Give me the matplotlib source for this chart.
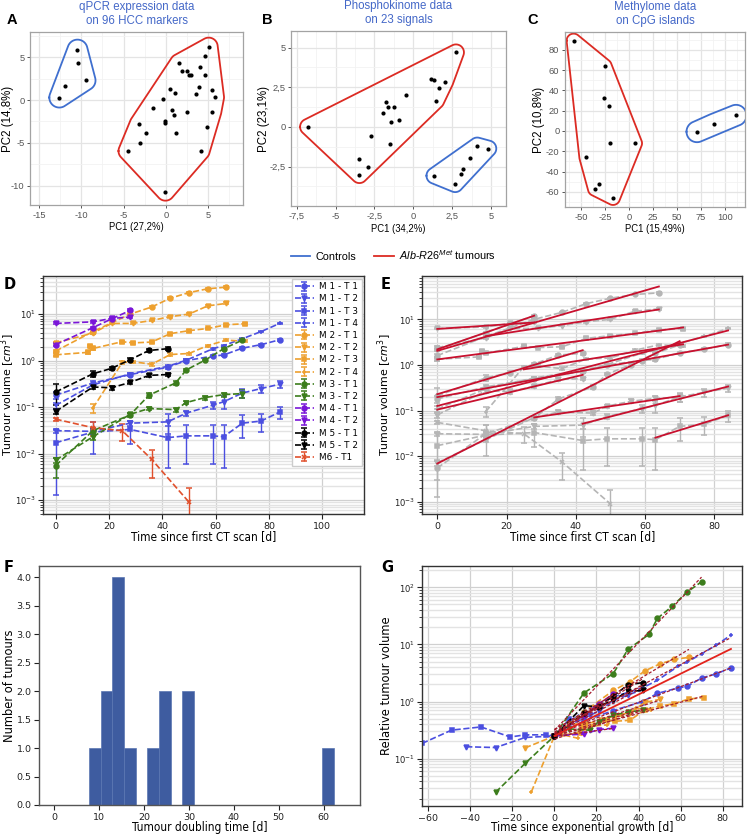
import os
import numpy as np
import matplotlib
matplotlib.use('Agg')
import matplotlib.pyplot as plt
from matplotlib import font_manager as fm
from matplotlib.font_manager import FontProperties
from matplotlib.ticker import FixedLocator, LogLocator, NullFormatter
from matplotlib.lines import Line2D

W, H = 747, 836

# ---------------- data: PCA panels ----------------
a_ctrl_x = [-12.6, -11.9, -10.45, -10.35, -9.5]
a_ctrl_y = [0.3, 1.6, 5.9, 4.3, 2.3]
a_tum_x = [5.08, 4.69, 1.57, 1.97, 2.56, 4.02, 2.76, 3.0, 4.69, 0.55, 1.1, 3.9, 5.43, 3.58, 5.83,
           -0.31, -1.5, 0.79, 1.02, 2.56, 5.51, -0.08, -0.04, -3.19, -2.32, 1.26, 4.84, -3.07,
           -4.53, 4.13, -0.04]
a_tum_y = [6.25, 5.19, 4.34, 3.44, 3.44, 3.83, 2.9, 2.9, 2.94, 1.34, 0.83, 1.57, 1.22, 0.71, 0.33,
           0.17, -0.92, -1.19, -1.74, -1.39, -1.35, -2.48, -2.67, -2.75, -3.88, -3.8, -3.1, -4.97,
           -5.95, -5.95, -10.7]

b_ctrl_x = [1.36, 2.69, 3.08, 3.19, 3.66, 4.11, 4.82]
b_ctrl_y = [-3.07, -3.6, -2.94, -2.65, -1.97, -1.17, -1.36]
b_tum_x = [-6.77, -3.47, -3.47, -2.93, -2.71, -1.96, -1.75, -1.64, -1.26, -1.41, -1.53, -0.93,
           -0.48, 1.15, 1.34, 2.05, 1.62, 1.47, 2.74]
b_tum_y = [0.01, -1.99, -3.03, -2.52, -0.54, 0.86, 1.6, 1.24, 1.24, 0.33, -1.08, 0.46, 2.0, 3.01,
           2.97, 2.85, 2.44, 1.66, 4.7]

c_ctrl_x = [71.1, 89.2, 111.8]
c_ctrl_y = [-0.7, 6.9, 15.4]
c_tum_x = [-57.7, -25.3, -26.0, -21.1, -20.1, 6.4, -44.4, -31.6, -35.4, -16.6]
c_tum_y = [88.9, 63.9, 32.1, 24.9, -12.1, -12.1, -25.9, -52.1, -57.0, -65.9]

# ---------------- data: tumour volumes (cm^3) ----------------
m1_t = [0, 14, 28, 42, 49, 59, 63, 70, 77, 84]
m1t1_v = [0.18, 0.33, 0.50, 0.72, 1.0, 1.25, 1.32, 1.85, 2.2, 2.8]
m1t1_e = [0.03, 0.03, 0.04, 0.05, 0.06, 0.08, 0.08, 0.1, 0.12, 0.15]
m1t2_v = [0.031, 0.030, 0.045, 0.048, 0.074, 0.11, 0.13, 0.20, 0.25, 0.31]
m1t2_e = [0.003, 0.004, 0.006, 0.022, 0.01, 0.02, 0.04, 0.045, 0.05, 0.05]
m1t3_v = [0.017, 0.029, 0.033, 0.022, 0.024, 0.024, 0.023, 0.045, 0.050, 0.078]
m1t3_e = [0.0157, 0.019, 0.017, 0.017, 0.018, 0.018, 0.018, 0.023, 0.021, 0.022]
m1t4_v = [0.108, 0.30, 0.52, 0.75, 1.02, 1.8, 2.1, 2.95, 4.2, 6.3]
m1t4_e = [0.015, 0.02, 0.03, 0.04, 0.05, 0.08, 0.1, 0.12, 0.15, 0.2]

m2t1_t = [0, 14, 28, 36, 43, 50, 57, 64]
m2t1_v = [1.6, 4.2, 10.0, 14.2, 22.0, 29.0, 35.0, 38.0]
m2t1_e = [0.1, 0.2, 0.4, 0.5, 0.8, 1.0, 1.2, 1.3]
m2t2_t = [0, 14, 21, 29, 36, 43, 50, 57, 64]
m2t2_v = [2.4, 3.9, 6.3, 6.3, 7.3, 8.8, 10.0, 15.0, 17.0]
m2t2_e = [0.15, 0.2, 0.3, 0.3, 0.3, 0.4, 0.5, 0.7, 0.8]
m2t3_t = [0, 12, 13, 14, 25, 29, 36, 43, 50, 57, 64, 71]
m2t3_v = [1.33, 1.5, 2.05, 1.82, 2.55, 2.4, 2.5, 3.8, 4.4, 4.9, 5.9, 6.2]
m2t3_e = [0.1, 0.1, 0.12, 0.1, 0.12, 0.1, 0.12, 0.2, 0.2, 0.2, 0.3, 0.3]
m2t4_t = [14, 25, 29, 36, 43, 50, 57, 64, 71]
m2t4_v = [0.095, 0.91, 0.95, 0.83, 1.35, 1.42, 2.1, 2.75, 2.6]
m2t4_e = [0.022, 0.05, 0.05, 0.05, 0.07, 0.07, 0.1, 0.15, 0.15]

m3_t = [0, 14, 28, 35, 45, 49, 56, 63, 70]
m3t1_v = [0.0055, 0.031, 0.068, 0.18, 0.33, 0.63, 1.02, 1.8, 2.75]
m3t1_e = [0.0025, 0.004, 0.006, 0.02, 0.03, 0.04, 0.06, 0.1, 0.15]
m3t2_v = [0.0072, 0.023, 0.07, 0.093, 0.088, 0.125, 0.16, 0.185, 0.195]
m3t2_e = [0.001, 0.003, 0.006, 0.008, 0.008, 0.01, 0.015, 0.02, 0.04]

m4_t = [0, 14, 21, 28]
m4t1_v = [2.2, 5.1, 7.9, 12.0]
m4t1_e = [0.15, 0.3, 0.4, 0.6]
m4t2_v = [6.3, 6.8, 8.1, 8.6]
m4t2_e = [0.3, 0.3, 0.4, 0.4]

m5_t = [0, 14, 21, 28, 35, 42]
m5t1_v = [0.21, 0.52, 0.68, 1.05, 1.65, 1.8]
m5t1_e = [0.1, 0.07, 0.06, 0.07, 0.12, 0.12]
m5t2_v = [0.08, 0.27, 0.26, 0.34, 0.48, 0.50]
m5t2_e = [0.01, 0.03, 0.03, 0.03, 0.04, 0.04]

m6_t = [0, 14, 25, 36, 50]
m6t1_v = [0.055, 0.036, 0.031, 0.0075, 0.0009]
m6t1_e = [0.004, 0.012, 0.012, 0.0045, 0.00088]

series_labels = ['M 1 - T 1', 'M 1 - T 2', 'M 1 - T 3', 'M 1 - T 4',
                 'M 2 - T 1', 'M 2 - T 2', 'M 2 - T 3', 'M 2 - T 4',
                 'M 3 - T 1', 'M 3 - T 2', 'M 4 - T 1', 'M 4 - T 2',
                 'M 5 - T 1', 'M 5 - T 2', 'M6 - T1']
# index of first point of the exponential growth phase (None = not fitted)
fit_start = [0, 3, 6, 0, 0, 1, 0, 1, 0, 2, 0, 0, 0, 0, None]

# tumour doubling times (days) for histogram
doubling_times = [7.8, 11.2, 12.3, 13.5, 14.0, 14.6, 15.2, 16.4, 22.0, 24.1, 25.0, 29.3, 30.2, 62.3]
n_bins = 21

# ---------------- styling ----------------
C_M1, C_M2, C_M3, C_M4, C_M5, C_M6 = '#4b4fe0', '#eda02f', '#3c7d1c', '#7a16d8', '#000000', '#e0502c'
BLUE_H, RED_H = '#3f6fcf', '#dc2b23'
TITLE_C = '#4468c8'

series = [
    (m1_t, m1t1_v, m1t1_e, C_M1, 'o'), (m1_t, m1t2_v, m1t2_e, C_M1, 'v'),
    (m1_t, m1t3_v, m1t3_e, C_M1, 's'), (m1_t, m1t4_v, m1t4_e, C_M1, '+'),
    (m2t1_t, m2t1_v, m2t1_e, C_M2, 'o'), (m2t2_t, m2t2_v, m2t2_e, C_M2, 'v'),
    (m2t3_t, m2t3_v, m2t3_e, C_M2, 's'), (m2t4_t, m2t4_v, m2t4_e, C_M2, '+'),
    (m3_t, m3t1_v, m3t1_e, C_M3, 'o'), (m3_t, m3t2_v, m3t2_e, C_M3, 'v'),
    (m4_t, m4t1_v, m4t1_e, C_M4, 'o'), (m4_t, m4t2_v, m4t2_e, C_M4, 'v'),
    (m5_t, m5t1_v, m5t1_e, C_M5, 'o'), (m5_t, m5t2_v, m5t2_e, C_M5, 'v'),
    (m6_t, m6t1_v, m6t1_e, C_M6, 'x'),
]


def _font(basename):
    for f in fm.fontManager.ttflist:
        if os.path.basename(f.fname).lower() == basename:
            return f.fname
    return None


DVC = _font('dejavusanscondensed.ttf')
LSN = _font('liberationsansnarrow-regular.ttf')


def fp_dv_x(size):
    if DVC:
        return FontProperties(fname=DVC, size=size)
    return FontProperties(family='DejaVu Sans', size=size * 0.87)


def fp_lib_x(size):
    if LSN:
        return FontProperties(fname=LSN, size=size)
    return FontProperties(family='Liberation Sans', size=size * 0.84)


plt.rcParams['mathtext.it'] = 'Liberation Sans:italic'
plt.rcParams['mathtext.rm'] = 'Liberation Sans'

fig = plt.figure(figsize=(W / 100, H / 100), dpi=100)


def add_ax(l, t, r, b):
    return fig.add_axes([l / W, 1 - b / H, (r - l) / W, (b - t) / H])


def place_labels(ax, xl_top_px, yl_right_px):
    """Place axis labels at pixel positions (x label top, y label right edge)."""
    bb = ax.get_position()
    l, b = bb.x0 * W, (1 - bb.y0) * H
    ax.xaxis.set_label_coords(0.5, (b - xl_top_px) / (bb.height * H))
    ax.yaxis.set_label_coords((yl_right_px - l) / (bb.width * W), 0.5)
    ax.xaxis.label.set_va('top')


def convex_hull(p):
    p = p[np.lexsort((p[:, 1], p[:, 0]))]

    def cross(o, a, b):
        return (a[0] - o[0]) * (b[1] - o[1]) - (a[1] - o[1]) * (b[0] - o[0])
    lower, upper = [], []
    for q in p:
        while len(lower) >= 2 and cross(lower[-2], lower[-1], q) <= 0:
            lower.pop()
        lower.append(q)
    for q in p[::-1]:
        while len(upper) >= 2 and cross(upper[-2], upper[-1], q) <= 0:
            upper.pop()
        upper.append(q)
    return np.array(lower[:-1] + upper[:-1])


def draw_hull(ax, xs, ys, color, pad_px):
    x0, x1 = ax.get_xlim()
    y0, y1 = ax.get_ylim()
    bb = ax.get_position()
    wpx, hpx = bb.width * W, bb.height * H
    u = (np.asarray(xs) - x0) / (x1 - x0) * wpx
    v = (np.asarray(ys) - y0) / (y1 - y0) * hpx
    hv = convex_hull(np.c_[u, v])
    ang = np.linspace(0, 2 * np.pi, 72, endpoint=False)
    circ = np.c_[np.cos(ang), np.sin(ang)] * pad_px
    allp = (hv[:, None, :] + circ[None, :, :]).reshape(-1, 2)
    rh = convex_hull(allp)
    rh = np.vstack([rh, rh[:1]])
    X = x0 + rh[:, 0] / wpx * (x1 - x0)
    Y = y0 + rh[:, 1] / hpx * (y1 - y0)
    ax.plot(X, Y, color=color, lw=1.3, solid_joinstyle='round', zorder=2)


def gg_axes(ax, xlim, ylim, xmaj, xlab, ymaj, ylab, xmin, ymin, xtitle, ytitle, title):
    ax.set_xlim(xlim)
    ax.set_ylim(ylim)
    ax.xaxis.set_major_locator(FixedLocator(xmaj))
    ax.yaxis.set_major_locator(FixedLocator(ymaj))
    ax.xaxis.set_minor_locator(FixedLocator(xmin))
    ax.yaxis.set_minor_locator(FixedLocator(ymin))
    ax.set_xticklabels(xlab)
    ax.set_yticklabels(ylab)
    ax.grid(which='major', color='#e4e4e4', lw=0.9)
    ax.grid(which='minor', color='#f2f2f2', lw=0.6)
    ax.set_axisbelow(True)
    for s in ax.spines.values():
        s.set_color('#a3a3a3')
        s.set_linewidth(0.9)
    ax.tick_params(which='major', length=2.5, width=0.7, color='#555555', labelcolor='#555555', pad=1.5)
    ax.tick_params(which='minor', length=0)
    for lab in ax.get_xticklabels() + ax.get_yticklabels():
        lab.set_fontproperties(fp_lib_x(8.0))
    ax.set_xlabel(xtitle, fontproperties=fp_lib_x(8.2))
    ax.set_ylabel(ytitle, family='Liberation Sans', fontsize=8.3)
    ax.set_title(title, color=TITLE_C, family='Liberation Sans', fontsize=8.3, pad=6, linespacing=1.15)


# ---------------- A ----------------
axA = add_ax(30, 32, 243, 205)
gg_axes(axA, (-16.07, 9.14), (-12.26, 7.96),
        [-15, -10, -5, 0, 5], ['-15', '-10', '-5', '0', '5'],
        [-10, -5, 0, 5], ['-10', '-5', '0', '5'],
        [-12.5, -7.5, -2.5, 2.5, 7.5], [-7.5, -2.5, 2.5, 7.5],
        'PC1 (27,2%)', 'PC2 (14,8%)', 'qPCR expression data\non 96 HCC markers')
axA.scatter(a_ctrl_x + a_tum_x, a_ctrl_y + a_tum_y, s=9, color='black', zorder=3, lw=0)
draw_hull(axA, a_ctrl_x, a_ctrl_y, BLUE_H, 10)
draw_hull(axA, a_tum_x, a_tum_y, RED_H, 9)
place_labels(axA, 222, 14)

# ---------------- B ----------------
axB = add_ax(291, 31, 506, 206)
gg_axes(axB, (-7.87, 5.96), (-4.98, 6.05),
        [-7.5, -5, -2.5, 0, 2.5, 5], ['-7,5', '-5', '-2,5', '0', '2,5', '5'],
        [-2.5, 0, 2.5, 5], ['-2,5', '0', '2,5', '5'],
        [-6.25, -3.75, -1.25, 1.25, 3.75], [-3.75, -1.25, 1.25, 3.75],
        'PC1 (34,2%)', 'PC2 (23,1%)', 'Phosphokinome data\non 23 signals')
axB.scatter(b_ctrl_x + b_tum_x, b_ctrl_y + b_tum_y, s=9, color='black', zorder=3, lw=0)
draw_hull(axB, b_ctrl_x, b_ctrl_y, BLUE_H, 8)
draw_hull(axB, b_tum_x, b_tum_y, RED_H, 8)
place_labels(axB, 224, 270)

# ---------------- C ----------------
axC = add_ax(565, 32, 745, 207)
gg_axes(axC, (-66.7, 121.2), (-74.8, 97.4),
        [-50, -25, 0, 25, 50, 75, 100], ['-50', '-25', '0', '25', '50', '75', '100'],
        [-60, -40, -20, 0, 20, 40, 60, 80], ['-60', '-40', '-20', '0', '20', '40', '60', '80'],
        [-62.5, -37.5, -12.5, 12.5, 37.5, 62.5, 87.5, 112.5], [-70, -50, -30, -10, 10, 30, 50, 70, 90],
        'PC1 (15,49%)', 'PC2 (10,8%)', 'Methylome data\non CpG islands')
axC.scatter(c_ctrl_x + c_tum_x, c_ctrl_y + c_tum_y, s=9, color='black', zorder=3, lw=0)
draw_hull(axC, c_ctrl_x, c_ctrl_y, BLUE_H, 10.5)
draw_hull(axC, c_tum_x, c_tum_y, RED_H, 7)
place_labels(axC, 224, 545)

for letter, x in (('A', 7), ('B', 262), ('C', 527)):
    fig.text(x / W, 1 - 20 / H, letter, family='Liberation Sans', weight='bold', fontsize=10.5,
             va='center', ha='left')

# common legend
leg = fig.legend(handles=[Line2D([], [], color=BLUE_H, lw=1.3), Line2D([], [], color=RED_H, lw=1.3)],
                 labels=['Controls', r'$\mathit{Alb}$-$\mathit{R26}^{\mathit{Met}}$ tumours'],
                 loc='center', bbox_to_anchor=(393 / W, 1 - 255 / H), ncol=2, frameon=False,
                 prop=FontProperties(family='Liberation Sans', size=7.8), handlelength=1.8,
                 handletextpad=0.45, columnspacing=1.7)
for t in leg.get_texts():
    t.set_math_fontfamily('custom')


# ---------------- helpers for D-G ----------------
def mpl_axes(ax, ylog=True):
    for s in ax.spines.values():
        s.set_color('#333333')
        s.set_linewidth(1.0)
    ax.tick_params(which='both', labelsize=6.8, colors='#222222', pad=2)
    if ylog:
        ax.tick_params(axis='y', which='both', labelsize=6.1, pad=1.5)
    ax.tick_params(which='major', length=3.5)
    ax.tick_params(which='minor', length=2)


def log_grid(ax):
    ax.set_yscale('log')
    ax.yaxis.set_major_locator(LogLocator(base=10, numticks=20))
    ax.yaxis.set_minor_locator(LogLocator(base=10, subs=np.arange(2, 10), numticks=100))
    ax.yaxis.set_minor_formatter(NullFormatter())
    ax.grid(True, which='major', axis='both', color='#d0d0d0', lw=0.9)
    ax.grid(True, which='minor', axis='y', color='#e3e3e3', lw=1.0)
    ax.set_axisbelow(True)


def xlabel(ax, text):
    ax.set_xlabel(text, fontproperties=fp_dv_x(8.5))


def ylabel(ax, text, size=8.3):
    ax.set_ylabel(text, family='DejaVu Sans', fontsize=size)


# ---------------- D ----------------
axD = add_ax(43.3, 276, 364.3, 514)
log_grid(axD)
for (t, v, e, c, m), lab in zip(series, series_labels):
    axD.errorbar(t, v, yerr=e, linestyle='--', marker=m, color=c, ms=3.5, mew=1.1, capsize=2,
                 lw=1.2, elinewidth=1.0, label=lab)
axD.set_xlim(-4.6, 115.7)
axD.set_ylim(5e-4, 66)
axD.set_xticks([0, 20, 40, 60, 80, 100], ['0', '20', '40', '60', '80', '100'])
mpl_axes(axD)
xlabel(axD, 'Time since first CT scan [d]')
ylabel(axD, r'Tumour volume [$cm^3$]', 7.9)
place_labels(axD, 530, 17)
axD.legend(loc='upper right', fontsize=6.4, labelspacing=0.36, handlelength=2.1, handletextpad=0.6,
           borderpad=0.4, borderaxespad=0.3, framealpha=1, edgecolor='#cccccc', fancybox=False)

# ---------------- E ----------------
axE = add_ax(422.3, 276, 742.3, 514)
log_grid(axE)
fits = []
for (t, v, e, c, m), i0 in zip(series, fit_start):
    axE.errorbar(t, v, yerr=e, linestyle='--', marker=m, color='#b5b5b5', ms=3.5, mew=1.1, capsize=2,
                 lw=1.2, elinewidth=1.0)
    if i0 is None:
        fits.append(None)
        continue
    tt = np.asarray(t[i0:], float)
    lv = np.log(np.asarray(v[i0:], float))
    b, a = np.polyfit(tt, lv, 1)
    fits.append((i0, a, b))
for (t, v, e, c, m), f in zip(series, fits):
    if f is None:
        continue
    i0, a, b = f
    xx = np.array([t[i0], t[-1]], float)
    axE.plot(xx, np.exp(a + b * xx), color='#c8102e', lw=1.3, zorder=4)
axE.set_xlim(-4.33, 88.1)
axE.set_ylim(5.4e-4, 89)
axE.set_xticks([0, 20, 40, 60, 80], ['0', '20', '40', '60', '80'])
mpl_axes(axE)
xlabel(axE, 'Time since first CT scan [d]')
ylabel(axE, r'Tumour volume [$cm^3$]', 7.9)
place_labels(axE, 530, 394)

# ---------------- F ----------------
axF = add_ax(39.3, 566, 360, 805)
axF.hist(doubling_times, bins=n_bins, color='#3e5ca0', edgecolor='#5a76b2', linewidth=0.5)
axF.set_xlim(-3.27, 68.1)
axF.set_ylim(0, 4.2)
axF.set_yticks(np.arange(0, 4.01, 0.5), ['%.1f' % y for y in np.arange(0, 4.01, 0.5)])
axF.set_xticks([0, 10, 20, 30, 40, 50, 60], ['0', '10', '20', '30', '40', '50', '60'])
mpl_axes(axF, ylog=False)
for s in axF.spines.values():
    s.set_color('#555555')
xlabel(axF, 'Tumour doubling time [d]')
ylabel(axF, 'Number of tumours')
place_labels(axF, 821, 16)

# ---------------- G ----------------
axG = add_ax(422.3, 565.7, 742.3, 806)
log_grid(axG)
slopes = []
for (t, v, e, c, m), f in zip(series, fits):
    if f is None:
        continue
    i0, a, b = f
    tr = np.asarray(t, float) - t[i0]
    vr = np.asarray(v, float) * 0.25 / v[i0]
    axG.plot(tr, vr, linestyle='--', marker=m, color=c, ms=3.5, mew=1.1, lw=1.2)
    bb, aa = np.polyfit(tr[i0:], np.log(vr[i0:]), 1)
    xx = np.array([0, tr[-1]])
    axG.plot(xx, np.exp(aa + bb * xx), color='#a51d2d', lw=0.9, dashes=(2.5, 1.5), zorder=4)
    slopes.append(bb)
mean_slope = np.mean(slopes)
xx = np.array([0.0, 84.0])
axG.plot(xx, 0.25 * np.exp(mean_slope * xx), color='#e3231c', lw=1.3, zorder=5)
axG.set_xlim(-62.9, 89.4)
axG.set_ylim(0.0148, 239)
axG.set_xticks([-60, -40, -20, 0, 20, 40, 60, 80],
               ['\u221260', '\u221240', '\u221220', '0', '20', '40', '60', '80'])
mpl_axes(axG)
xlabel(axG, 'Time since exponential growth [d]')
ylabel(axG, 'Relative tumour volume')
place_labels(axG, 821, 393)

for letter, x, y in (('D', 4, 285), ('E', 381, 285), ('F', 4, 568), ('G', 381, 568)):
    fig.text(x / W, 1 - y / H, letter, family='DejaVu Sans', weight='bold', fontsize=10.5,
             va='center', ha='left')

fig.savefig('out.png', dpi=100)
